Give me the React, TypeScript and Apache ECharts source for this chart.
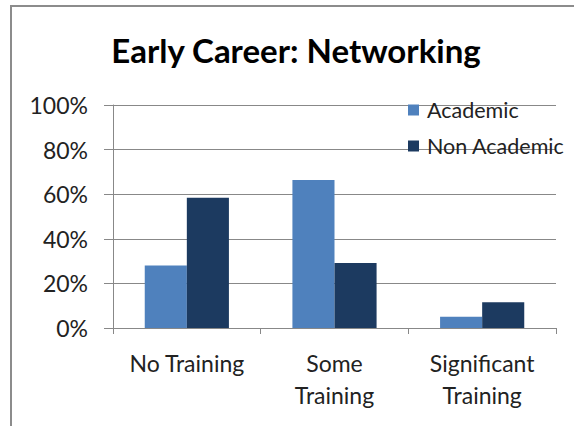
import React, { useEffect, useRef } from "react";
import * as echarts from "echarts";

const categories = ["No Training", "Some\nTraining", "Significant\nTraining"];
const academic = [28, 66.4, 5.1];
const nonAcademic = [58.4, 29.1, 11.5];
const yTicks = [0, 20, 40, 60, 80, 100];

const FONT = "Lato, 'Open Sans', sans-serif";

export default function App() {
  const ref = useRef<HTMLDivElement>(null);
  useEffect(() => {
    if (!ref.current) return;
    const chart = echarts.init(ref.current, undefined, { renderer: "svg" });
    chart.setOption({
      animation: false,
      backgroundColor: "#ffffff",
      graphic: [
        { type: "line", shape: { x1: 10, y1: 6, x2: 574, y2: 6 }, style: { stroke: "#8c8c8c", lineWidth: 2 } },
        { type: "line", shape: { x1: 11, y1: 5, x2: 11, y2: 426 }, style: { stroke: "#8c8c8c", lineWidth: 2 } },
      ],
      title: {
        text: "Early Career: Networking",
        left: 291,
        textAlign: "center",
        top: 28,
        textStyle: { fontFamily: FONT, fontSize: 33, fontWeight: "bold", color: "#000" },
      },
      legend: {
        orient: "vertical",
        left: 408,
        top: 99,
        padding: 0,
        itemWidth: 11,
        itemHeight: 11,
        itemGap: 14,
        icon: "rect",
        textStyle: { fontFamily: FONT, fontSize: 21.5, lineHeight: 22, color: "#222", padding: [0, 0, 0, 3] },
        data: ["Academic", "Non Academic"],
      },
      grid: { left: 113, right: 18, top: 105, bottom: 98 },
      xAxis: {
        type: "category",
        data: categories,
        axisLine: { lineStyle: { color: "#888" } },
        axisTick: { show: true, length: 6, lineStyle: { color: "#888" } },
        axisLabel: { fontFamily: FONT, fontSize: 23, color: "#222", margin: 19, lineHeight: 32, interval: 0 },
      },
      yAxis: {
        type: "value",
        min: 0,
        max: 100,
        interval: 20,
        axisLine: { show: true, lineStyle: { color: "#888" } },
        axisTick: { show: true, length: 9, lineStyle: { color: "#888" } },
        splitLine: { lineStyle: { color: "#888" } },
        axisLabel: {
          fontFamily: FONT,
          fontSize: 23,
          color: "#222",
          margin: 25,
          formatter: (v: number) => (yTicks.includes(v) ? v + "%" : ""),
        },
      },
      series: [
        {
          name: "Academic",
          type: "bar",
          data: academic,
          barGap: "0%",
          barCategoryGap: "43%",
          itemStyle: { color: "#4f81bd" },
        },
        {
          name: "Non Academic",
          type: "bar",
          data: nonAcademic,
          itemStyle: { color: "#1c3a60" },
        },
      ],
    });
    return () => chart.dispose();
  }, []);
  return <div ref={ref} style={{ width: 574, height: 426, position: "absolute", left: 0, top: 0 }} />;
}
